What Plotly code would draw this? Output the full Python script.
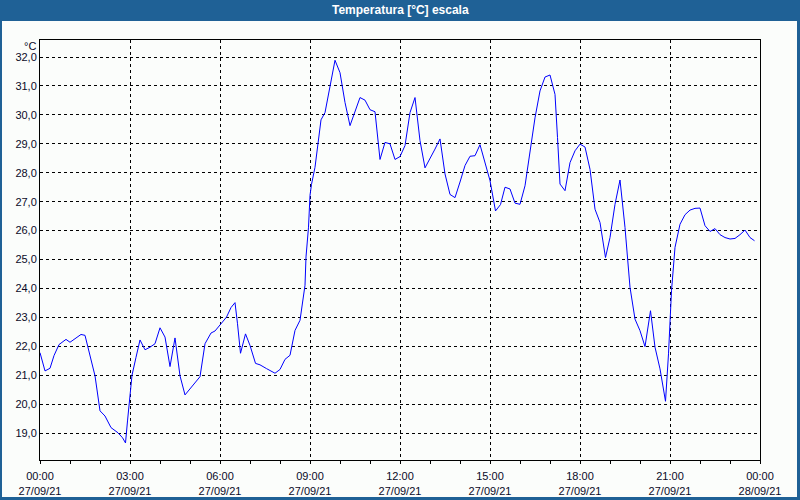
import pandas as pd
import plotly.graph_objects as go

# ---- data ----
times = ["00:00", "00:10", "00:20", "00:28", "00:38", "00:52", "01:00", "01:10", "01:22", "01:30",
         "01:40", "01:50", "02:00", "02:10", "02:22", "02:36", "02:45", "02:51", "02:55", "03:00",
         "03:04", "03:12", "03:20", "03:30", "03:40", "03:50", "04:00", "04:10", "04:20", "04:30",
         "04:40", "04:50", "05:00", "05:11", "05:20", "05:30", "05:42", "05:50", "06:01", "06:13",
         "06:22", "06:30", "06:35", "06:41", "06:51", "07:00", "07:11", "07:20", "07:33", "07:50",
         "08:00", "08:10", "08:20", "08:25", "08:30", "08:40", "08:45", "08:50", "08:52", "08:57",
         "09:00", "09:03", "09:10", "09:19", "09:22", "09:30", "09:40", "09:50", "10:00", "10:10",
         "10:20", "10:30", "10:40", "10:50", "11:00", "11:10", "11:20", "11:30", "11:40", "11:50",
         "12:00", "12:10", "12:20", "12:30", "12:40", "12:50", "13:00", "13:10", "13:20", "13:30",
         "13:40", "13:50", "14:00", "14:10", "14:20", "14:30", "14:40", "14:50", "15:00", "15:11",
         "15:21", "15:30", "15:40", "15:50", "16:00", "16:10", "16:20", "16:30", "16:40", "16:50",
         "17:00", "17:10", "17:15", "17:20", "17:30", "17:40", "17:50", "18:00", "18:10", "18:20",
         "18:30", "18:40", "18:51", "19:00", "19:10", "19:20", "19:30", "19:40", "19:50", "20:00",
         "20:10", "20:17", "20:21", "20:30", "20:40", "20:51", "20:57", "21:03", "21:10", "21:20",
         "21:30", "21:40", "21:50", "22:00", "22:10", "22:20", "22:30", "22:40", "22:50", "23:00",
         "23:10", "23:20", "23:30", "23:40", "23:49"]
temps = [21.78, 21.15, 21.24, 21.68, 22.06, 22.24, 22.14, 22.26, 22.41, 22.38,
         21.68, 20.98, 19.77, 19.59, 19.19, 19.01, 18.84, 18.66, 19.42, 20.35,
         21.00, 21.62, 22.22, 21.88, 21.97, 22.09, 22.64, 22.32, 21.30, 22.29,
         20.98, 20.32, 20.52, 20.75, 20.95, 22.09, 22.46, 22.53, 22.78, 23.01,
         23.34, 23.51, 22.78, 21.76, 22.43, 22.03, 21.41, 21.36, 21.23, 21.07,
         21.20, 21.55, 21.69, 22.12, 22.55, 22.90, 23.48, 24.11, 25.09, 26.12,
         27.22, 27.60, 28.19, 29.55, 29.83, 30.08, 30.94, 31.89, 31.46, 30.43,
         29.63, 30.14, 30.60, 30.51, 30.18, 30.11, 28.46, 29.05, 29.00, 28.46,
         28.56, 28.94, 30.08, 30.60, 29.11, 28.17, 28.48, 28.82, 29.17, 27.96,
         27.25, 27.14, 27.68, 28.25, 28.57, 28.59, 28.97, 28.36, 27.73, 26.68,
         26.90, 27.50, 27.44, 26.95, 26.91, 27.55, 28.80, 29.90, 30.83, 31.31,
         31.38, 30.71, 29.22, 27.61, 27.38, 28.35, 28.76, 28.99, 28.89, 28.12,
         26.74, 26.28, 25.07, 25.76, 26.91, 27.75, 26.11, 24.04, 22.94, 22.54,
         21.99, 22.89, 23.23, 21.97, 21.22, 20.10, 21.74, 23.92, 25.42, 26.22,
         26.55, 26.71, 26.77, 26.78, 26.17, 25.97, 26.07, 25.86, 25.76, 25.71,
         25.73, 25.86, 26.02, 25.76, 25.65]
day = "2021-09-27"
tick_times = ["2021-09-27 00:00", "2021-09-27 03:00", "2021-09-27 06:00", "2021-09-27 09:00",
              "2021-09-27 12:00", "2021-09-27 15:00", "2021-09-27 18:00", "2021-09-27 21:00",
              "2021-09-28 00:00"]
tick_labels = ["00:00<br>27/09/21", "03:00<br>27/09/21", "06:00<br>27/09/21", "09:00<br>27/09/21",
               "12:00<br>27/09/21", "15:00<br>27/09/21", "18:00<br>27/09/21", "21:00<br>27/09/21",
               "00:00<br>28/09/21"]
title = "Temperatura [°C] escala"
unit = "°C"

x = pd.to_datetime([f"{day} {t}" for t in times])

BLUE = "#1f6196"
BG = "#fbfdfb"
TXT = "#0a0a28"
FONT = "Liberation Sans, Arial, sans-serif"

fig = go.Figure()
fig.add_trace(go.Scatter(x=x, y=temps, mode="lines",
                         line=dict(color="#0000ff", width=1), hoverinfo="skip"))

fig.update_layout(
    width=800, height=500,
    margin=dict(l=40, r=40, t=40, b=40, autoexpand=False),
    paper_bgcolor=BLUE,
    plot_bgcolor="rgba(0,0,0,0)",
    showlegend=False,
    separators=",.",
    font=dict(family=FONT, size=11, color=TXT),
)
# window body
fig.add_shape(type="rect", xref="paper", yref="paper",
              x0=(2 - 40) / 720, x1=(797 - 40) / 720,
              y0=(460 - 497) / 420, y1=(460 - 21) / 420,
              fillcolor=BG, line=dict(width=0), layer="below")

fig.update_xaxes(
    type="date", automargin=False,
    range=["2021-09-27 00:00", "2021-09-28 00:00"],
    tickvals=pd.to_datetime(tick_times), ticktext=tick_labels,
    ticks="outside", ticklen=3, tickcolor="black", tickwidth=1,
    ticklabelstandoff=3,
    minor=dict(dtick=3600000, ticks="outside", ticklen=3, tickcolor="black", showgrid=False),
    showgrid=True, gridcolor="black", gridwidth=1, griddash="3px,3px",
    showline=True, linecolor="black", linewidth=1, mirror=True,
    zeroline=False, tickfont=dict(size=11, color=TXT, family=FONT),
)
fig.update_yaxes(
    automargin=False,
    range=[18.07, 32.59],
    tick0=19, dtick=1, tickformat=".1f",
    ticks="", showgrid=True, gridcolor="black", gridwidth=1, griddash="3px,3px",
    showline=True, linecolor="black", linewidth=1, mirror=True,
    zeroline=False, tickfont=dict(size=11, color=TXT, family=FONT),
)

fig.add_annotation(text=f"<b>{title}</b>", xref="paper", yref="paper",
                   x=0.5, y=(460 - 10) / 420, xanchor="center", yanchor="middle",
                   showarrow=False, font=dict(family=FONT, size=12, color="white"))
fig.add_annotation(text=unit, xref="paper", yref="paper",
                   x=(38 - 40) / 720, y=(460 - 46) / 420, xanchor="right", yanchor="middle",
                   showarrow=False, font=dict(family=FONT, size=11, color=TXT))

fig.write_html("out.html")
